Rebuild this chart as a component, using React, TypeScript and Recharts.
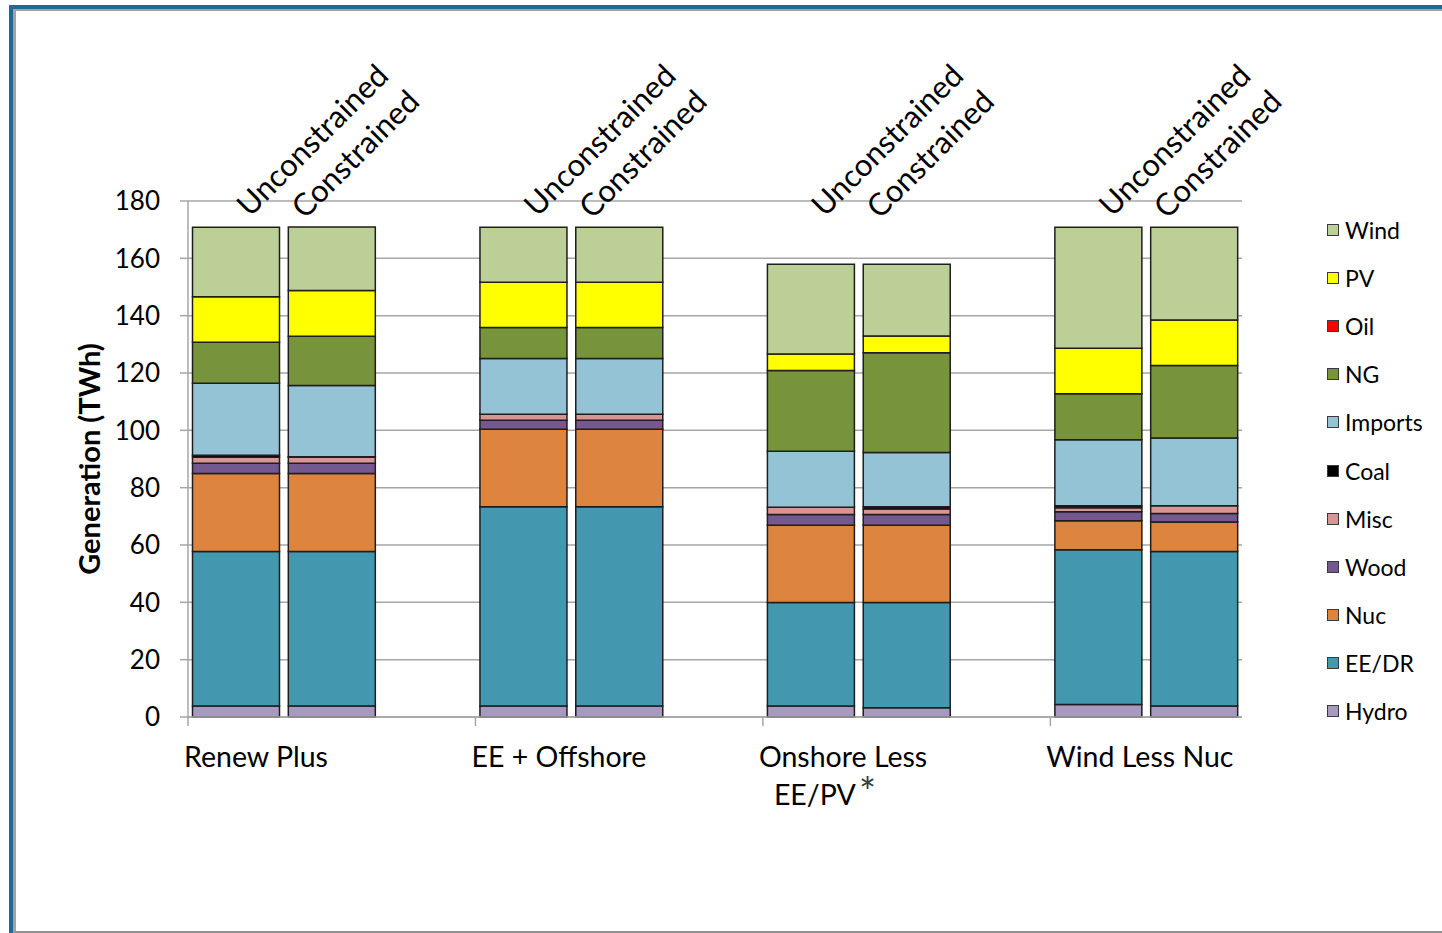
import React from 'react';
import { BarChart, Bar, XAxis, YAxis, CartesianGrid, Legend } from 'recharts';

// ---------- data ----------
const slotIds = ['rp-u', 'rp-c', 'gap1', 'ee-u', 'ee-c', 'gap2', 'on-u', 'on-c', 'gap3', 'wl-u', 'wl-c'];
const caseLabels = ['Unconstrained', 'Constrained', '', 'Unconstrained', 'Constrained', '', 'Unconstrained', 'Constrained', '', 'Unconstrained', 'Constrained'];
const groupLabels = ['Renew Plus', '', '', 'EE + Offshore', '', '', 'Onshore Less|EE/PV', '', '', 'Wind Less Nuc', ''];
const yTicks = [0, 20, 40, 60, 80, 100, 120, 140, 160, 180];

const hydro = [3.8, 3.8, null, 3.8, 3.8, null, 3.8, 3.2, null, 4.4, 3.8];
const eeDr = [53.9, 53.9, null, 69.5, 69.5, null, 36.1, 36.7, null, 53.9, 53.9];
const nuc = [27.2, 27.2, null, 27.1, 27.1, null, 27.0, 27.0, null, 10.2, 10.3];
const wood = [3.6, 3.6, null, 3.1, 3.1, null, 3.7, 3.7, null, 3.1, 3.0];
const misc = [2.1, 2.2, null, 2.1, 2.1, null, 2.6, 2.0, null, 1.4, 2.7];
const coal = [0.7, 0.1, null, 0, 0, null, 0, 0.7, null, 0.7, 0];
const imports = [25.1, 24.8, null, 19.5, 19.5, null, 19.5, 19.0, null, 23.0, 23.6];
const ng = [14.3, 17.2, null, 10.8, 10.8, null, 28.2, 34.8, null, 16.1, 25.3];
const oil = [0, 0, null, 0, 0, null, 0, 0, null, 0, 0];
const pv = [15.9, 16.0, null, 15.8, 15.8, null, 5.7, 5.8, null, 15.8, 15.9];
const wind = [24.2, 22.1, null, 19.1, 19.1, null, 31.3, 25.0, null, 42.2, 32.3];

const seriesDefs = [
  { key: 'hydro', name: 'Hydro', color: '#a899c1', values: hydro },
  { key: 'eeDr', name: 'EE/DR', color: '#4398b0', values: eeDr },
  { key: 'nuc', name: 'Nuc', color: '#dd843f', values: nuc },
  { key: 'wood', name: 'Wood', color: '#73598f', values: wood },
  { key: 'misc', name: 'Misc', color: '#d99594', values: misc },
  { key: 'coal', name: 'Coal', color: '#000000', values: coal },
  { key: 'imports', name: 'Imports', color: '#93c3d5', values: imports },
  { key: 'ng', name: 'NG', color: '#77933c', values: ng },
  { key: 'oil', name: 'Oil', color: '#ff0000', values: oil },
  { key: 'pv', name: 'PV', color: '#ffff00', values: pv },
  { key: 'wind', name: 'Wind', color: '#bbcf97', values: wind },
];

const data = slotIds.map((id, i) => {
  const row: Record<string, any> = { id };
  seriesDefs.forEach((s) => {
    row[s.key] = s.values[i];
  });
  return row;
});

// ---------- layout ----------
const CHART_W = 1442;
const CHART_H = 933;
const PLOT_LEFT = 188;
const PLOT_RIGHT = 1242;
const PLOT_TOP = 201;
const PLOT_BOTTOM = 717;
const Y_AXIS_W = 108;
const TOP_AXIS_H = 30;
const BOTTOM_AXIS_H = 60;
const SLOT_W = (PLOT_RIGHT - PLOT_LEFT) / slotIds.length;
const FONT = "Lato, 'Open Sans', 'DejaVu Sans', sans-serif";
const GRID = '#a6a6a6';

const TopTick = (props: any) => {
  const { x, y, index } = props;
  const label = caseLabels[index];
  if (!label) return null;
  const dx = label === 'Constrained' ? -27 : 14;
  const dy = label === 'Constrained' ? 19 : 17;
  return (
    <g transform={`translate(${x + dx},${y + dy})`}>
      <text transform="rotate(-45)" textAnchor="start" fontSize={31} fontFamily={FONT} fill="#000">
        {label}
      </text>
    </g>
  );
};

const BottomTick = (props: any) => {
  const { x, y, index } = props;
  const label = groupLabels[index];
  if (!label) return null;
  const start = x - SLOT_W / 2;
  const lines = label.split('|');
  return (
    <g>
      <line x1={start} y1={y} x2={start} y2={y + 9} stroke={GRID} strokeWidth={1.5} />
      <text x={start - 4} y={y + 50} textAnchor="start" fontSize={28.5} fontFamily={FONT} fill="#000">
        {lines[0]}
      </text>
      {lines[1] ? (
        <text x={start + 11} y={y + 88} textAnchor="start" fontSize={28.5} fontFamily={FONT} fill="#000">
          {lines[1]}
          <tspan dx={3} dy={2} fontSize={40} fill="#2f3e3e">*</tspan>
        </text>
      ) : null}
    </g>
  );
};

const legendOrder = [...seriesDefs].reverse();

const LegendContent = () => (
  <div style={{ display: 'flex', flexDirection: 'column' }}>
    {legendOrder.map((s) => (
      <div key={s.key} style={{ height: 48.1, display: 'flex', alignItems: 'center' }}>
        <span
          style={{
            width: 10,
            height: 10,
            background: s.color,
            border: '1.5px solid #3a3a3a',
            marginRight: 6,
            display: 'inline-block',
          }}
        />
        <span style={{ fontSize: 23, color: '#000', fontFamily: FONT }}>{s.name}</span>
      </div>
    ))}
  </div>
);

const YLabel = (props: any) => {
  const vb = props.viewBox || { x: 0, y: 0, width: 0, height: 0 };
  const cx = 88;
  const cy = vb.y + vb.height / 2;
  return (
    <text
      x={cx}
      y={cy}
      transform={`rotate(-90, ${cx}, ${cy})`}
      textAnchor="middle"
      dominantBaseline="central"
      fontSize={29}
      fontWeight="bold"
      fontFamily={FONT}
      fill="#000"
    >
      Generation (TWh)
    </text>
  );
};

export default function App() {
  return (
    <div style={{ position: 'absolute', left: 0, top: 0, width: CHART_W, height: CHART_H, overflow: 'hidden', background: '#fff' }}>
      {/* frame */}
      <div
        style={{
          position: 'absolute',
          left: 9,
          top: 5,
          width: 1500,
          height: 940,
          borderLeft: '4px solid #1b6c9a',
          borderTop: '4px solid #1b6c9a',
          boxSizing: 'border-box',
        }}
      >
        <div
          style={{
            position: 'absolute',
            left: 0,
            top: 0,
            width: 1500,
            height: 924,
            borderLeft: '3px solid #a3a3a3',
            borderTop: '2px solid #a3a3a3',
            borderBottom: '2px solid #8f8f8f',
            boxSizing: 'border-box',
          }}
        />
      </div>
      <div style={{ position: 'absolute', left: 0, top: 0 }}>
        <BarChart
          width={CHART_W}
          height={CHART_H}
          data={data}
          barCategoryGap={4.5}
          margin={{
            top: PLOT_TOP - TOP_AXIS_H,
            right: CHART_W - PLOT_RIGHT,
            bottom: CHART_H - PLOT_BOTTOM - BOTTOM_AXIS_H,
            left: PLOT_LEFT - Y_AXIS_W,
          }}
        >
          <CartesianGrid horizontal vertical={false} stroke={GRID} strokeWidth={1.5} />
          <XAxis
            dataKey="id"
            interval={0}
            height={BOTTOM_AXIS_H}
            tickLine={false}
            tickSize={0}
            tickMargin={0}
            axisLine={{ stroke: GRID, strokeWidth: 1.5 }}
            tick={<BottomTick />}
          />
          <XAxis
            xAxisId="top"
            dataKey="id"
            orientation="top"
            interval={0}
            height={TOP_AXIS_H}
            tickLine={false}
            tickSize={0}
            tickMargin={0}
            axisLine={false}
            tick={<TopTick />}
          />
          <YAxis
            domain={[0, 180]}
            ticks={yTicks}
            width={Y_AXIS_W}
            tickSize={8}
            tickMargin={20}
            axisLine={{ stroke: GRID, strokeWidth: 1.5 }}
            tickLine={{ stroke: GRID, strokeWidth: 1.5 }}
            tick={{ fontSize: 26, fontFamily: FONT, fill: '#000' }}
            label={{ content: <YLabel /> }}
          />
          <Legend
            layout="vertical"
            align="center"
            verticalAlign="middle"
            wrapperStyle={{ left: 1327, top: 206, width: 115 }}
            content={<LegendContent />}
          />
          {seriesDefs.map((s) => (
            <Bar
              key={s.key}
              dataKey={s.key}
              name={s.name}
              stackId="gen"
              fill={s.color}
              stroke="#1e1e1e"
              strokeWidth={1.5}
              isAnimationActive={false}
            />
          ))}
        </BarChart>
      </div>
    </div>
  );
}
